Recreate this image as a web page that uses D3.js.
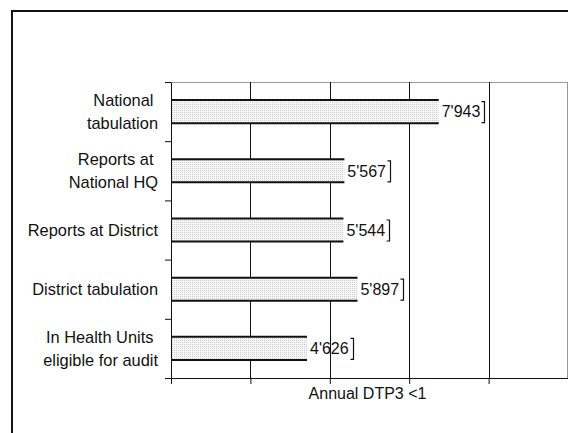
<!DOCTYPE html>
<html>
<head>
<meta charset="utf-8">
<script src="https://cdn.jsdelivr.net/npm/d3@7"></script>
<style>
  body { margin: 0; background: #fff; }
  svg text { font-family: Arial, "Liberation Sans", sans-serif; fill: #111; }
</style>
</head>
<body>
<svg id="chart" width="568" height="433"></svg>
<script>
// data
var categories = [
    ["National ", "tabulation"],
    ["Reports at ", "National HQ"],
    ["Reports at District"],
    ["District tabulation"],
    ["In Health Units ", "eligible for audit"]
];
var values = [7943, 5567, 5544, 5897, 4626];
var xTicks = [1200, 3200, 5200, 7200, 9200, 11200];
var axisTitle = "Annual DTP3 <1";

var svg = d3.select("#chart"),
    plotLeft = 171, plotRight = 568, plotTop = 82, plotBottom = 378;

var fmt = d3.formatLocale({decimal: ".", thousands: "'", grouping: [3], currency: ["", ""]}).format(",");

var x = d3.scaleLinear().domain([1200, 11200]).range([plotLeft, plotRight]);
var ids = categories.map(function (d, i) { return i; });
var y = d3.scaleBand().domain(ids).range([plotTop, plotBottom])
    .paddingInner(0.61).paddingOuter(0.305);
var yIdx = d3.scaleLinear().domain([0, categories.length]).range([plotTop, plotBottom]);

// outer frame
svg.append("rect")
    .attr("x", 12).attr("y", 11)
    .attr("width", 620).attr("height", 500)
    .attr("fill", "none").attr("stroke", "#111").attr("stroke-width", 2);

// dotted bar fill
var pat = svg.append("defs").append("pattern")
    .attr("id", "dots").attr("patternUnits", "userSpaceOnUse")
    .attr("width", 2).attr("height", 2);
pat.append("rect").attr("width", 2).attr("height", 2).attr("fill", "#f6f6f6");
pat.append("rect").attr("width", 1).attr("height", 1).attr("fill", "#cfcfcf");

// plot border (grey)
svg.append("line")
    .attr("x1", plotLeft).attr("x2", plotRight).attr("y1", plotTop + 0.5).attr("y2", plotTop + 0.5)
    .attr("stroke", "#999");
svg.append("line")
    .attr("x1", plotRight - 0.5).attr("x2", plotRight - 0.5).attr("y1", plotTop).attr("y2", plotBottom)
    .attr("stroke", "#999");

// gridlines
svg.append("g").selectAll("line")
    .data(xTicks.slice(1, -1)).enter().append("line")
    .attr("x1", function (d) { return Math.round(x(d)) + 0.5; })
    .attr("x2", function (d) { return Math.round(x(d)) + 0.5; })
    .attr("y1", plotTop).attr("y2", plotBottom)
    .attr("stroke", "#111");

// bars
var bars = svg.append("g").selectAll("g")
    .data(values).enter().append("g");
bars.append("rect")
    .attr("x", plotLeft)
    .attr("y", function (d, i) { return y(i); })
    .attr("width", function (d) { return x(d) - plotLeft; })
    .attr("height", y.bandwidth())
    .attr("fill", "url(#dots)");
bars.append("line")
    .attr("x1", plotLeft).attr("x2", function (d) { return x(d); })
    .attr("y1", function (d, i) { return y(i); })
    .attr("y2", function (d, i) { return y(i); })
    .attr("stroke", "#111").attr("stroke-width", 2);
bars.append("line")
    .attr("x1", plotLeft).attr("x2", function (d) { return x(d); })
    .attr("y1", function (d, i) { return y(i) + y.bandwidth(); })
    .attr("y2", function (d, i) { return y(i) + y.bandwidth(); })
    .attr("stroke", "#111").attr("stroke-width", 2);

// value labels + bracket
bars.each(function (d, i) {
    var g = d3.select(this),
        cy = y(i) + y.bandwidth() / 2;
    var t = g.append("text")
        .attr("x", x(d) + 3)
        .attr("y", cy)
        .attr("dy", "0.36em")
        .style("font-size", "16px")
        .text(fmt(d));
    var bx = Math.round(x(d) + 3 + t.node().getComputedTextLength() + 4) + 0.5;
    g.append("path")
        .attr("d", "M" + (bx - 3) + "," + (cy - 10) + "H" + bx + "V" + (cy + 11) + "H" + (bx - 3))
        .attr("fill", "none").attr("stroke", "#111").attr("stroke-width", 1.2);
});

// axes
svg.append("g")
    .attr("transform", "translate(0," + plotBottom + ")")
    .call(d3.axisBottom(x).tickValues(xTicks).tickFormat("").tickSize(6).tickSizeOuter(0));
svg.append("g")
    .attr("transform", "translate(" + plotLeft + ",0)")
    .call(d3.axisLeft(yIdx).tickValues(d3.range(categories.length + 1)).tickFormat("").tickSize(6).tickSizeOuter(0));
svg.selectAll(".domain, .tick line").attr("stroke", "#111");

// category labels
var labels = svg.append("g").selectAll("text")
    .data(categories).enter().append("text")
    .attr("text-anchor", "end")
    .style("font-size", "16.4px")
    .style("white-space", "pre");
labels.each(function (lines, i) {
    var cy = y(i) + y.bandwidth() / 2,
        first = cy - (lines.length - 1) * 23 / 2 + 5.8;
    d3.select(this).selectAll("tspan")
        .data(lines).enter().append("tspan")
        .attr("x", 158)
        .attr("y", function (l, j) { return first + j * 23; })
        .text(function (l) { return l; });
});

// axis title
svg.append("text")
    .attr("x", (plotLeft + plotRight) / 2 - 2)
    .attr("y", 399)
    .attr("text-anchor", "middle")
    .style("font-size", "16px")
    .text(axisTitle);
</script>
</body>
</html>
